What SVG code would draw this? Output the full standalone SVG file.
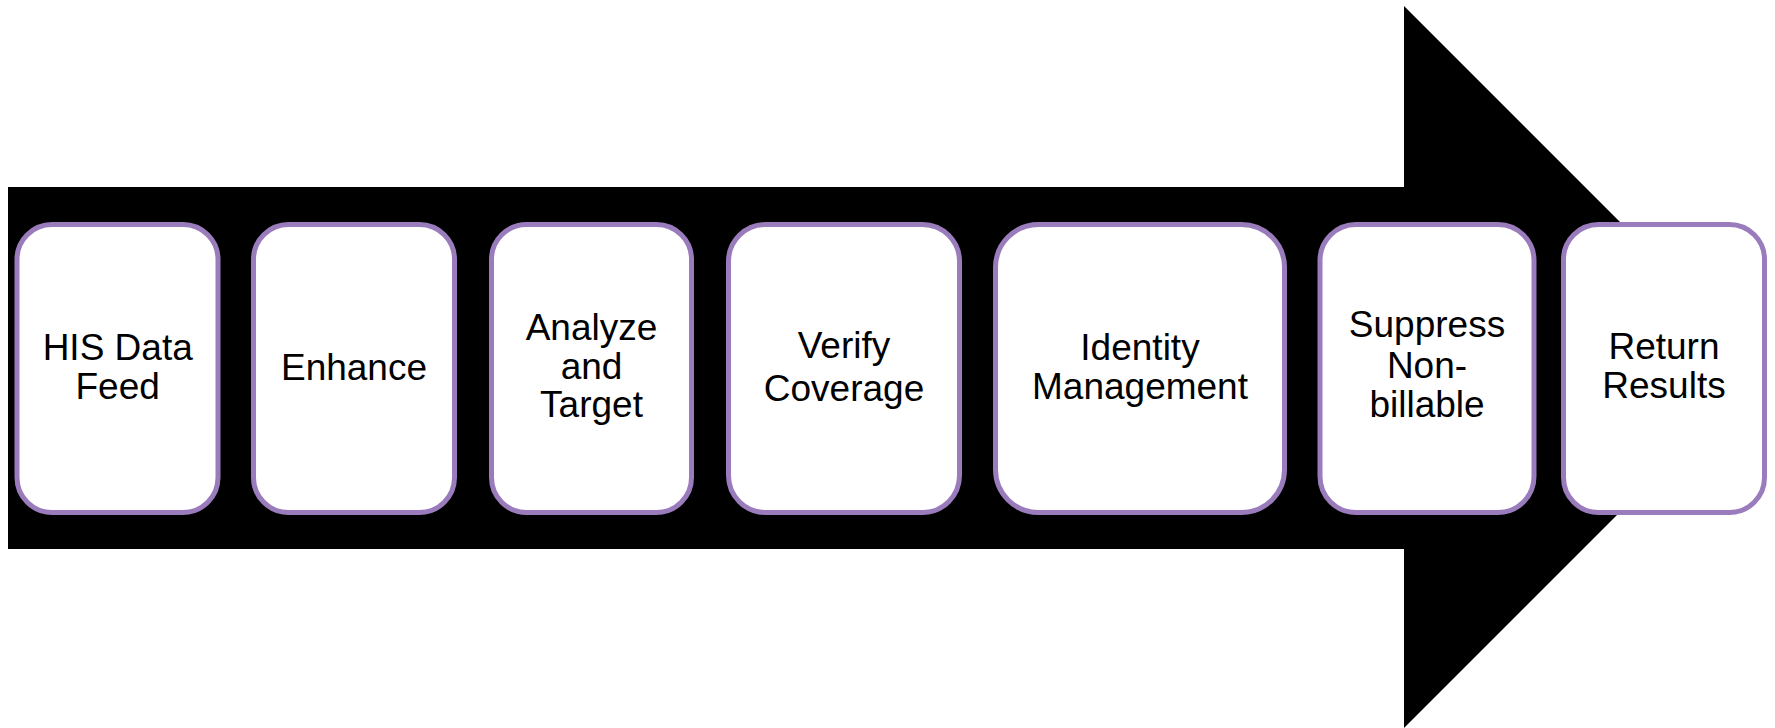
<svg xmlns="http://www.w3.org/2000/svg" width="1775" height="728" viewBox="0 0 1775 728">
  <style>
    .step { fill: #ffffff; stroke: #9a7cbd; stroke-width: 5; }
    .label { font-family: "Liberation Sans", Arial, sans-serif; font-size: 37px; fill: #000000; text-anchor: middle; }
  </style>
  <rect width="1775" height="728" fill="#ffffff"/>

  <!-- Process arrow backdrop -->
  <g id="connectors">
    <path id="flow-arrow" d="M8,187 H1404 V6 L1765,367 L1404,728 V549 H8 Z" fill="#000000"/>
  </g>

  <g id="step-his-data-feed">
    <rect class="step" x="17" y="224.5" width="201" height="288" rx="35" ry="35"/>
    <text class="label"><tspan x="117.7" y="360">HIS Data</tspan><tspan x="117.7" y="398.5">Feed</tspan></text>
  </g>

  <g id="step-enhance">
    <rect class="step" x="253.5" y="224.5" width="201" height="288" rx="35" ry="35"/>
    <text class="label" x="354" y="380">Enhance</text>
  </g>

  <g id="step-analyze-target">
    <rect class="step" x="491.5" y="224.5" width="200" height="288" rx="35" ry="35"/>
    <text class="label"><tspan x="591.5" y="340">Analyze</tspan><tspan x="591.5" y="378.5">and</tspan><tspan x="591.5" y="417">Target</tspan></text>
  </g>

  <g id="step-verify-coverage">
    <rect class="step" x="728.5" y="224.5" width="231" height="288" rx="37" ry="37"/>
    <text class="label"><tspan x="844" y="358">Verify</tspan><tspan x="844" y="401">Coverage</tspan></text>
  </g>

  <g id="step-identity-management">
    <rect class="step" x="995.5" y="224.5" width="289" height="288" rx="43" ry="43"/>
    <text class="label"><tspan x="1140" y="360">Identity</tspan><tspan x="1140" y="398.5">Management</tspan></text>
  </g>

  <g id="step-suppress-nonbillable">
    <rect class="step" x="1320" y="224.5" width="214" height="288" rx="36" ry="36"/>
    <text class="label"><tspan x="1427" y="337">Suppress</tspan><tspan x="1427" y="378">Non-</tspan><tspan x="1427" y="417">billable</tspan></text>
  </g>

  <g id="step-return-results">
    <rect class="step" x="1563.5" y="224.5" width="201" height="288" rx="35" ry="35"/>
    <text class="label"><tspan x="1664" y="358.5">Return</tspan><tspan x="1664" y="397.5">Results</tspan></text>
  </g>
</svg>
